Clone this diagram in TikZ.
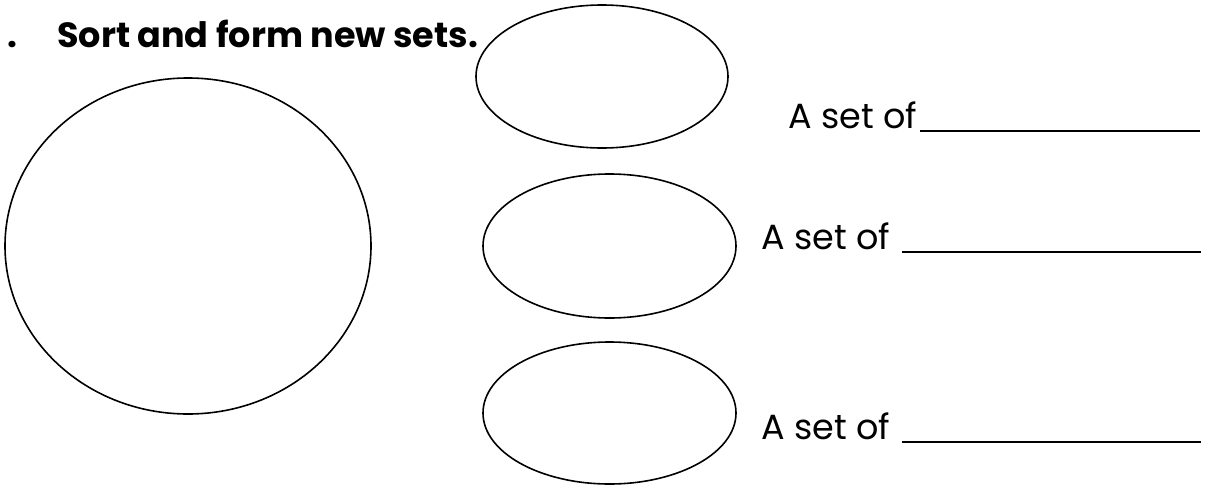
\documentclass[tikz,border=0pt]{standalone}
\usepackage{fontspec}
\setmainfont{Poppins}
\begin{document}
\begin{tikzpicture}[x=1pt,y=-1pt,
  setline/.style={line width=1.5pt},
  shapeline/.style={line width=1.6pt},
  lbl/.style={anchor=base west,inner sep=0pt,font=\fontsize{35}{40}\selectfont},
  ttl/.style={anchor=base west,inner sep=0pt,font=\fontsize{35}{40}\selectfont\bfseries}]
\useasboundingbox (0,0) rectangle (1210,485);
\node[ttl] (dot) at (7,47) {.};
\node[ttl] (title) at (57,47) {Sort and form new sets.};
\draw[shapeline] (188,246) ellipse[x radius=183,y radius=168];
\draw[shapeline] (602,76.5) ellipse[x radius=126,y radius=71.5];
\draw[shapeline] (609.5,246) ellipse[x radius=126.5,y radius=72];
\draw[shapeline] (609.5,413) ellipse[x radius=126.5,y radius=71];
\node[lbl] (s1) at (788,128) {A set of};
\node[lbl] (s2) at (761,249) {A set of};
\node[lbl] (s3) at (761,439) {A set of};
\coordinate (u1a) at (920,131); \coordinate (u1b) at (1200,131);
\coordinate (u2a) at (902,252); \coordinate (u2b) at (1201,252);
\coordinate (u3a) at (902,442); \coordinate (u3b) at (1201,442);
\draw[setline] (u1a) -- (u1b);
\draw[setline] (u2a) -- (u2b);
\draw[setline] (u3a) -- (u3b);
\end{tikzpicture}
\end{document}
